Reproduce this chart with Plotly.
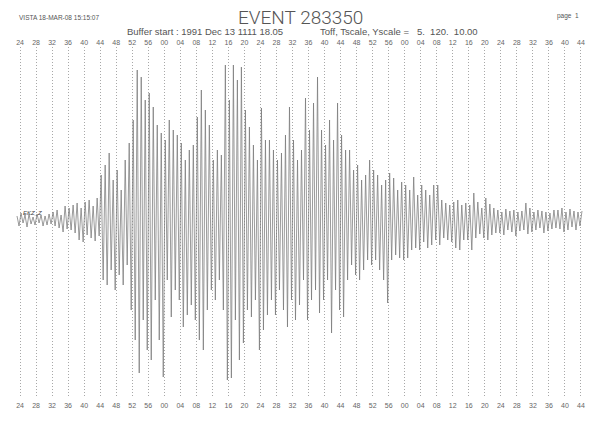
import plotly.graph_objects as go

# tick labels (seconds, every 4 s)
tick_labels = ["24","28","32","36","40","44","48","52","56","00","04","08","12","16","20",
               "24","28","32","36","40","44","48","52","56","00","04","08","12","16","20",
               "24","28","32","36","40","44"]
tick_seconds = [4 * i for i in range(len(tick_labels))]

# sample times (s) and trace amplitudes
t0 = -0.75
dt = 0.5
amplitude = [
    4,-6,7,-3,5,-7,6,-4,3,-5,6,-3,5,-6,4,
    -5,6,-4,8,-6,10,-8,5,-12,14,-9,12,-10,15,-13,
    17,-20,12,-22,18,-15,20,-18,14,-21,22,-16,45,-60,55,
    -65,67,-50,40,-70,50,-55,30,-65,60,-45,77,-90,100,-120,
    150,-153,143,-100,120,-130,127,-140,113,-80,95,-120,87,-157,80,
    -60,100,-97,90,-70,85,-80,77,-107,60,-95,70,-85,75,-100,
    103,-120,130,-130,110,-90,95,-70,60,-80,70,-60,65,-90,155,
    -160,120,-158,155,-100,140,-140,153,-123,110,-90,93,-97,75,-80,
    60,-130,112,-110,80,-95,80,-80,70,-95,60,-70,67,-90,85,
    -107,113,-80,80,-100,60,-85,70,-60,122,-100,90,-80,117,-70,
    143,-93,90,-80,75,-60,100,-113,80,-70,117,-90,85,-97,70,
    -60,70,-45,50,-55,55,-60,40,-50,45,-40,60,-45,50,-40,
    45,-50,35,-60,40,-83,47,-40,42,-35,30,-38,38,-40,35,
    -38,30,-30,43,-28,25,-30,35,-22,30,-28,25,-25,35,-20,
    35,-25,20,-18,17,-20,15,-22,18,-28,20,-30,15,-20,17,
    -20,15,-30,27,-18,18,-14,12,-18,22,-20,16,-15,12,-13,
    10,-13,8,-15,11,-10,9,-12,10,-16,8,-11,9,-10,17,
    -14,12,-12,8,-10,10,-8,9,-13,8,-11,7,-9,10,-8,
    10,-9,12,-12,8,-10,11,-7,9,-10,8,-6,9,
]
times = [t0 + dt * i for i in range(len(amplitude))]

fig = go.Figure()
fig.add_trace(go.Scatter(x=times, y=amplitude, mode="lines",
                         line=dict(color="#7a7a7a", width=0.75), showlegend=False))
fig.add_trace(go.Scatter(x=[times[0]], y=[0], xaxis="x2", mode="markers",
                         marker=dict(opacity=0), showlegend=False, hoverinfo="skip"))

axis_common = dict(
    range=[-2.5, 142.25], tickmode="array", tickvals=tick_seconds, ticktext=tick_labels,
    zeroline=False, showline=False, ticks="",
    tickfont=dict(family="Liberation Sans", size=7, color="#666"),
)
fig.update_layout(
    width=600, height=424,
    margin=dict(l=10, r=10, t=47, b=27),
    paper_bgcolor="white", plot_bgcolor="white",
    xaxis=dict(**axis_common, side="bottom", showgrid=True, gridcolor="#a8a8a8",
               griddash="1px,2px", gridwidth=1, ticklabelstandoff=3),
    xaxis2=dict(**axis_common, showgrid=False, overlaying="x", side="top", matches="x"),
    yaxis=dict(range=[-177, 173], visible=False, showgrid=False, zeroline=False),
)

PL, PR, PT, PB = 10, 590, 47, 397


def px2paper(px, py):
    return (px - PL) / (PR - PL), (PB - py) / (PB - PT)


annotations = [
    ("EVENT 283350", 300, 18, 19, "center", "Roboto", 300),
    ("VISTA 18-MAR-08 15:15:07", 17, 17, 6.5, "left", "Liberation Sans", 400),
    ("page  1", 581, 16, 6.5, "right", "Liberation Sans", 400),
    ("Buffer start : 1991 Dec 13 1111 18.05", 125, 32, 9.5, "left", "Liberation Sans", 400),
    ("Toff, Tscale, Yscale =   5.  120.  10.00", 318, 32, 9.5, "left", "Liberation Sans", 400),
]
for txt, px, py, fs, anchor, fam, wt in annotations:
    ax, ay = px2paper(px, py)
    fig.add_annotation(text=txt, x=ax, y=ay, xref="paper", yref="paper",
                       xanchor=anchor, yanchor="middle", showarrow=False,
                       font=dict(size=fs, family=fam, weight=wt, color="#555"))
fig.add_annotation(text="<i>EKZ_Z</i>", x=0.3, y=7, xref="x", yref="y", xanchor="left",
                   showarrow=False, font=dict(family="Liberation Sans", size=6, color="#444"))

fig.write_html("out.html", config={"displayModeBar": False},
               post_script="document.body.style.margin='0';document.body.style.overflow='hidden';")
